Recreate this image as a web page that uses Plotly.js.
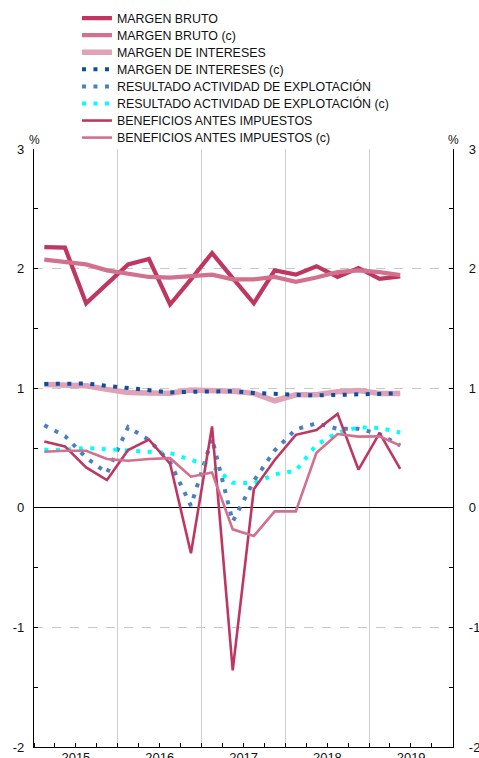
<!DOCTYPE html>
<html>
<head>
<meta charset="utf-8">
<script src="https://cdn.plot.ly/plotly-3.0.1.min.js"></script>
<style>
html,body{margin:0;padding:0;background:#fff;}
#chart{width:479px;height:758px;}
</style>
</head>
<body>
<div id="chart"></div>
<script>
// Quarters (2015 Q1 .. 2019 Q2)
const quarters = ['2015-Q1','2015-Q2','2015-Q3','2015-Q4',
                  '2016-Q1','2016-Q2','2016-Q3','2016-Q4',
                  '2017-Q1','2017-Q2','2017-Q3','2017-Q4',
                  '2018-Q1','2018-Q2','2018-Q3','2018-Q4',
                  '2019-Q1','2019-Q2'];

const seriesNames = ['MARGEN BRUTO','MARGEN BRUTO (c)','MARGEN DE INTERESES','MARGEN DE INTERESES (c)',
  'RESULTADO ACTIVIDAD DE EXPLOTACIÓN','RESULTADO ACTIVIDAD DE EXPLOTACIÓN (c)',
  'BENEFICIOS ANTES IMPUESTOS','BENEFICIOS ANTES IMPUESTOS (c)'];

const margenBruto   = [2.18, 2.175, 1.71, 1.87, 2.035, 2.08, 1.70, 1.91, 2.13, 1.92, 1.71, 1.985, 1.95, 2.02, 1.93, 2.005, 1.915, 1.935];
const margenBrutoC  = [2.075, 2.055, 2.035, 1.985, 1.955, 1.93, 1.925, 1.935, 1.95, 1.91, 1.91, 1.93, 1.89, 1.925, 1.97, 1.985, 1.97, 1.945];
const margenInt     = [1.03, 1.03, 1.02, 0.99, 0.965, 0.96, 0.957, 0.985, 0.98, 0.975, 0.957, 0.895, 0.945, 0.945, 0.97, 0.98, 0.955, 0.955];
const margenIntC    = [1.035, 1.04, 1.04, 1.02, 1.0, 0.98, 0.965, 0.97, 0.975, 0.975, 0.96, 0.95, 0.945, 0.94, 0.945, 0.955, 0.957, 0.957];
const resultado     = [0.69, 0.60, 0.42, 0.29, 0.675, 0.567, 0.38, 0.017, 0.58, -0.115, 0.225, 0.48, 0.656, 0.706, 0.66, 0.66, 0.617, 0.52];
const resultadoC    = [0.486, 0.486, 0.50, 0.49, 0.477, 0.47, 0.458, 0.40, 0.35, 0.21, 0.205, 0.28, 0.31, 0.527, 0.63, 0.672, 0.668, 0.63];
const beneficios    = [0.555, 0.513, 0.338, 0.232, 0.483, 0.57, 0.37, -0.38, 0.68, -1.36, 0.155, 0.40, 0.61, 0.65, 0.785, 0.32, 0.625, 0.325];
const beneficiosC   = [0.469, 0.477, 0.477, 0.408, 0.394, 0.408, 0.415, 0.26, 0.295, -0.18, -0.235, -0.03, -0.03, 0.46, 0.617, 0.595, 0.597, 0.52];

const yTickVals = [-2, -1, 0, 1, 2, 3];
const xYears = ['2015', '2020'];

// mid-quarter dates
const midMonth = {Q1: '02-15', Q2: '05-16', Q3: '08-16', Q4: '11-15'};
const xDates = quarters.map(q => { const [y, p] = q.split('-'); return y + '-' + midMonth[p]; });

const allValues = [margenBruto, margenBrutoC, margenInt, margenIntC, resultado, resultadoC, beneficios, beneficiosC];
const styles = [
  {color: '#bf3760', width: 4.2, dash: 'solid'},
  {color: '#d2708d', width: 4.2, dash: 'solid'},
  {color: '#e0a2b6', width: 5.5, dash: 'solid'},
  {color: '#0b4ea2', width: 4, dash: '4px,7.5px'},
  {color: '#4a80c2', width: 4, dash: '4px,7.5px'},
  {color: '#00ffff', width: 4, dash: '4px,7.5px'},
  {color: '#bf3760', width: 2.6, dash: 'solid'},
  {color: '#d2708d', width: 2.6, dash: 'solid'}
];

// plot area in px
const W = 479, H = 758;
const mL = 34, mR = 25.7, mT = 149.3, mB = 11.3;
const pw = W - mL - mR, ph = H - mT - mB;
const px2x = px => (px - mL) / pw;
const py2y = py => (H - mB - py) / ph;

const traces = allValues.map((vals, i) => ({
  type: 'scatter', mode: 'lines', x: xDates, y: vals, name: seriesNames[i],
  line: {color: styles[i].color, width: styles[i].width, dash: styles[i].dash},
  legend: i === 0 ? 'legend' : 'legend' + (i + 1),
  hoverinfo: 'x+y+name'
}));
// right axis carrier (invisible)
traces.push({type: 'scatter', mode: 'lines', x: xDates, y: margenBruto, yaxis: 'y2',
  line: {width: 0, color: 'rgba(0,0,0,0)'}, showlegend: false, hoverinfo: 'skip'});

const fontFam = 'Liberation Sans, Arial, sans-serif';
const layout = {
  width: W, height: H,
  margin: {l: mL, r: mR, t: mT, b: mB, autoexpand: false},
  paper_bgcolor: '#fff', plot_bgcolor: '#fff',
  font: {family: fontFam, color: '#111', size: 13},
  xaxis: {
    type: 'date', range: [xYears[0] + '-01-01', xYears[1] + '-01-01'],
    dtick: 'M12', tick0: '2015-01-01', tickformat: '%Y', ticklabelmode: 'period',
    showgrid: true, gridcolor: '#cfcfcf', gridwidth: 1,
    ticks: 'inside', ticklen: 4, tickcolor: '#000',
    showline: true, linecolor: '#000', linewidth: 1.2,
    minor: {dtick: 'M3', ticks: 'inside', ticklen: 4, tickcolor: '#000', showgrid: false},
    tickfont: {size: 13, color: '#111'}, ticklabelstandoff: -2, fixedrange: true
  },
  yaxis: {
    range: [-2, 3], tickvals: yTickVals, ticktext: yTickVals.map(String),
    showgrid: true, gridcolor: '#c8c8c8', griddash: 'dash', gridwidth: 1,
    zeroline: true, zerolinecolor: '#000', zerolinewidth: 1,
    showline: true, linecolor: '#000', linewidth: 1.2,
    ticks: 'inside', ticklen: 4, tickcolor: '#000',
    minor: {dtick: 0.5, tick0: 0, ticks: 'inside', ticklen: 4, tickcolor: '#000', showgrid: false},
    tickfont: {size: 13, color: '#111'}, ticklabelstandoff: 6, fixedrange: true
  },
  yaxis2: {
    range: [-2, 3], tickvals: yTickVals, ticktext: yTickVals.map(String),
    overlaying: 'y', side: 'right', showgrid: false, zeroline: false,
    showline: true, linecolor: '#000', linewidth: 1.2,
    ticks: 'inside', ticklen: 4, tickcolor: '#000',
    minor: {dtick: 0.5, tick0: 0, ticks: 'inside', ticklen: 4, tickcolor: '#000', showgrid: false},
    tickfont: {size: 13, color: '#111'}, ticklabelstandoff: 12, fixedrange: true
  },
  showlegend: true,
  annotations: [
    {xref: 'paper', yref: 'paper', x: 0, y: 1, yshift: 9, text: '%', showarrow: false,
     xanchor: 'center', yanchor: 'middle', font: {size: 12, color: '#111'}},
    {xref: 'paper', yref: 'paper', x: 1, y: 1, yshift: 9, text: '%', showarrow: false,
     xanchor: 'center', yanchor: 'middle', font: {size: 12, color: '#111'}}
  ]
};

seriesNames.forEach((n, i) => {
  const key = i === 0 ? 'legend' : 'legend' + (i + 1);
  layout[key] = {
    x: px2x(77), y: py2y(19 + i * 17.05), xanchor: 'left', yanchor: 'middle',
    bgcolor: 'rgba(0,0,0,0)', borderwidth: 0, itemwidth: 30,
    font: {family: fontFam, size: 12.4, color: '#111'}
  };
});

Plotly.newPlot('chart', traces, layout, {displayModeBar: false, staticPlot: true});
</script>
</body>
</html>
